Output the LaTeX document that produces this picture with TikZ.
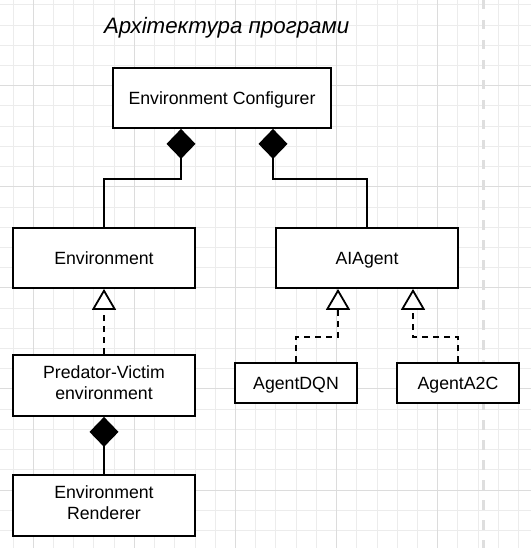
\documentclass[tikz,border=0pt]{standalone}
\usepackage{fontspec}
\setmainfont{Liberation Sans}
\usetikzlibrary{arrows.meta}
\definecolor{gridminor}{HTML}{ECECEC}
\definecolor{gridmajor}{HTML}{DCDCDC}
\definecolor{sepgray}{HTML}{DEDEDE}
\tikzset{
  box/.style={draw=black, line width=1.8pt, fill=white, inner sep=0pt, align=center,
    font=\fontsize{17.7}{21.2}\selectfont, text height=12.7pt, text depth=0pt},
  twoline/.style={text height=33.9pt, text depth=5pt},
  conn/.style={line width=1.8pt, draw=black},
  compo/.style={conn, {Diamond[length=30pt, width=29pt, fill=black]}-},
  inh/.style={conn, dash pattern=on 6pt off 5pt, -{Triangle[open, fill=white, length=21pt, width=24pt]}},
}
\begin{document}
\begin{tikzpicture}[x=1pt, y=-1pt]
\useasboundingbox (0,0) rectangle (531,548);
\fill[white] (0,0) rectangle (531,548);
\begin{scope}
\clip (0,0) rectangle (531,548);
\foreach \k in {0,...,26} {
  \draw[gridminor, line width=1pt] ({13.1+20.22*\k},0) -- ({13.1+20.22*\k},548);
}
\foreach \k in {0,...,27} {
  \draw[gridminor, line width=1pt] (0,{4.8+20.22*\k}) -- (531,{4.8+20.22*\k});
}
\foreach \k in {1,6,11,16,21,26} {
  \draw[gridmajor, line width=1pt] ({13.1+20.22*\k},0) -- ({13.1+20.22*\k},548);
}
\foreach \k in {4,9,14,19,24} {
  \draw[gridmajor, line width=1pt] (0,{4.8+20.22*\k}) -- (531,{4.8+20.22*\k});
}
\draw[sepgray, line width=3.3pt, dash pattern=on 9.5pt off 10.5pt] (483.3,0) -- (483.3,548);
\end{scope}

\node[anchor=base, inner sep=0pt, font=\fontsize{22.3}{26}\selectfont\itshape] (title) at (226.7,33.3) {Архітектура програми};

\node[box, minimum width=218pt, minimum height=60pt] (ec) at (222,98) {Environment Configurer};
\node[box, minimum width=182pt, minimum height=60pt] (env) at (104,258) {Environment};
\node[box, minimum width=182pt, minimum height=60pt] (ai) at (367,258) {AIAgent};
\node[box, twoline, minimum width=182pt, minimum height=61pt] (pv) at (104,385.5) {Predator-Victim\\environment};
\node[box, twoline, minimum width=182pt, minimum height=61pt] (ren) at (104,505.5) {Environment\\Renderer};
\node[box, minimum width=122pt, minimum height=40pt] (dqn) at (296,383) {AgentDQN};
\node[box, minimum width=122pt, minimum height=40pt] (a2c) at (458,383) {AgentA2C};

\draw[compo] ([xshift=-41pt]ec.south) -- ++(0,50) -| (env.north);
\draw[compo] ([xshift=51pt]ec.south) -- ++(0,50) -| (ai.north);
\draw[compo] (pv.south) -- (ren.north);

\draw[inh] (pv.north) -- (env.south);
\draw[inh] (dqn.north) -- ++(0,-25) -| ([xshift=-29pt]ai.south);
\draw[inh] (a2c.north) -- ++(0,-25) -| ([xshift=46pt]ai.south);
\end{tikzpicture}
\end{document}
